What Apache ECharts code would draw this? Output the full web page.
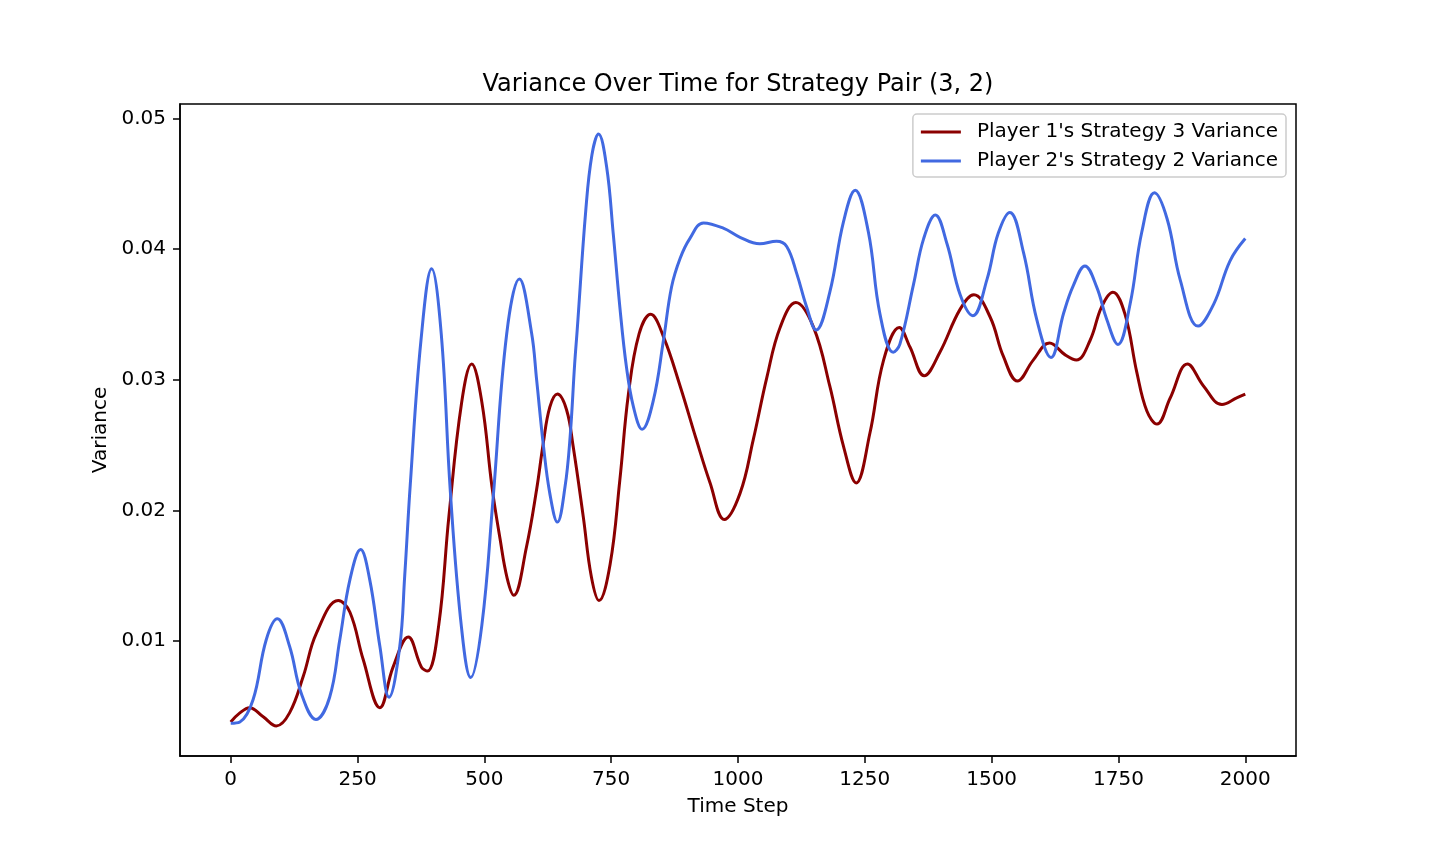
<!DOCTYPE html>
<html>
<head>
<meta charset="utf-8">
<title>Variance Over Time</title>
<script src="https://cdn.jsdelivr.net/npm/echarts@6/dist/echarts.min.js"></script>
<style>
  html, body { margin: 0; padding: 0; background: #fff; }
  #chart { width: 1440px; height: 864px; }
</style>
</head>
<body>
<div id="chart"></div>
<script>
// values (time step, variance)
var redT = [0, 18, 37, 64, 90, 116, 143, 169, 212, 235, 261, 294, 320, 350, 376, 388, 410, 430, 455, 475, 495, 515, 531, 545, 558, 583, 603, 616, 629, 644, 662, 675, 695, 711, 726, 748, 767, 784, 805, 828, 853, 886, 918, 945, 973, 1004, 1030, 1057, 1083, 1114, 1149, 1181, 1208, 1233, 1260, 1287, 1318, 1339, 1367, 1398, 1438, 1465, 1497, 1523, 1551, 1582, 1614, 1645, 1667, 1694, 1717, 1739, 1763, 1786, 1806, 1826, 1852, 1886, 1918, 1954, 1983, 2000];
var redV = [0.0038, 0.0045, 0.0049, 0.0042, 0.0035, 0.0045, 0.0073, 0.0106, 0.0131, 0.0122, 0.0086, 0.0049, 0.0080, 0.0103, 0.0080, 0.0077, 0.0112, 0.0195, 0.0282, 0.0312, 0.0283, 0.0218, 0.0178, 0.0148, 0.0135, 0.0172, 0.0216, 0.0251, 0.0279, 0.0289, 0.0277, 0.0249, 0.0195, 0.0149, 0.0131, 0.0159, 0.0223, 0.0289, 0.0335, 0.035, 0.0333, 0.0295, 0.0254, 0.0221, 0.0193, 0.0213, 0.0254, 0.0302, 0.034, 0.0359, 0.034, 0.0295, 0.0249, 0.0221, 0.0259, 0.0315, 0.034, 0.0325, 0.0303, 0.0321, 0.0354, 0.0365, 0.0348, 0.0318, 0.0299, 0.0315, 0.0328, 0.0319, 0.0315, 0.033, 0.0356, 0.0367, 0.035, 0.0306, 0.0276, 0.0266, 0.0286, 0.0312, 0.0295, 0.0281, 0.0286, 0.0289];

var blueT = [0, 18, 44, 70, 92, 116, 139, 168, 195, 215, 235, 256, 274, 294, 312, 333, 343, 354, 375, 396, 415, 433, 455, 473, 495, 517, 544, 569, 593, 603, 616, 629, 644, 659, 669, 678, 683, 700, 712, 725, 741, 754, 767, 780, 794, 811, 833, 853, 869, 886, 905, 932, 971, 1004, 1043, 1076, 1096, 1116, 1135, 1154, 1181, 1208, 1231, 1257, 1280, 1306, 1319, 1346, 1366, 1389, 1412, 1438, 1463, 1491, 1513, 1536, 1563, 1589, 1617, 1642, 1661, 1684, 1707, 1727, 1749, 1773, 1796, 1821, 1846, 1872, 1907, 1938, 1970, 2000];
var blueV = [0.0037, 0.0038, 0.0055, 0.0101, 0.0117, 0.0096, 0.006, 0.004, 0.0057, 0.0101, 0.0147, 0.017, 0.0147, 0.0096, 0.0057, 0.0095, 0.015, 0.022, 0.033, 0.0385, 0.0335, 0.0214, 0.011, 0.0072, 0.0112, 0.0208, 0.0335, 0.0377, 0.0336, 0.030, 0.0251, 0.0213, 0.0191, 0.0218, 0.0256, 0.0312, 0.0338, 0.043, 0.0472, 0.0488, 0.0463, 0.0412, 0.0356, 0.031, 0.0279, 0.0262, 0.0284, 0.033, 0.0371, 0.0393, 0.0408, 0.042, 0.0416, 0.0409, 0.0404, 0.0406, 0.0402, 0.0381, 0.0356, 0.0338, 0.0367, 0.0421, 0.0445, 0.0413, 0.035, 0.0321, 0.0327, 0.0373, 0.0408, 0.0426, 0.0404, 0.0365, 0.0349, 0.0377, 0.0412, 0.0428, 0.0397, 0.0346, 0.0317, 0.0351, 0.0372, 0.0387, 0.0371, 0.0346, 0.0327, 0.0358, 0.0413, 0.0443, 0.0423, 0.0376, 0.0341, 0.0358, 0.0391, 0.0408];

var xTicks = [0, 250, 500, 750, 1000, 1250, 1500, 1750, 2000];
var yTicks = [0.01, 0.02, 0.03, 0.04, 0.05];

var seriesNames = ["Player 1's Strategy 3 Variance", "Player 2's Strategy 2 Variance"];

function pairs(ts, vs) {
  return ts.map(function (t, i) { return [t, vs[i]]; });
}

var font = "DejaVu Sans";
var myChart = echarts.init(document.getElementById("chart"));

myChart.setOption({
  animation: false,
  textStyle: { fontFamily: font },
  title: {
    text: "Variance Over Time for Strategy Pair (3, 2)",
    left: 738,
    textAlign: "center",
    top: 73,
    padding: 0,
    textStyle: { fontFamily: font, fontSize: 24, fontWeight: "normal", color: "#000" }
  },
  legend: {
    orient: "vertical",
    right: 154,
    top: 114,
    padding: [8, 8, 6, 8],
    itemGap: 9,
    itemWidth: 40,
    itemHeight: 3,
    icon: "rect",
    borderColor: "#cccccc",
    borderWidth: 1.5,
    borderRadius: 4,
    backgroundColor: "rgba(255,255,255,0.8)",
    textStyle: { fontFamily: font, fontSize: 20, lineHeight: 20, color: "#000", padding: [0, 0, 0, 11] },
    data: seriesNames
  },
  grid: {
    left: 180,
    right: 144,
    top: 104,
    bottom: 108,
    show: true,
    borderColor: "#000",
    borderWidth: 1.5,
    containLabel: false
  },
  xAxis: {
    type: "value",
    min: -100,
    max: 2100,
    name: "Time Step",
    nameLocation: "middle",
    nameGap: 41,
    nameTextStyle: { fontFamily: font, fontSize: 20, color: "#000" },
    axisLine: { show: true, onZero: false, lineStyle: { color: "#000", width: 1.5 } },
    axisTick: { show: true, length: 7, lineStyle: { color: "#000", width: 1.5 }, customValues: xTicks },
    axisLabel: {
      fontFamily: font, fontSize: 20, color: "#000", margin: 14, customValues: xTicks,
      formatter: function (v) { return String(v); }
    },
    splitLine: { show: false }
  },
  yAxis: {
    type: "value",
    min: 0.0012,
    max: 0.0511,
    name: "Variance",
    nameLocation: "middle",
    nameGap: 58,
    nameTextStyle: { fontFamily: font, fontSize: 20, color: "#000" },
    axisLine: { show: true, onZero: false, lineStyle: { color: "#000", width: 1.5 } },
    axisTick: { show: true, length: 7, lineStyle: { color: "#000", width: 1.5 }, customValues: yTicks },
    axisLabel: {
      fontFamily: font, fontSize: 20, color: "#000", margin: 14, customValues: yTicks,
      formatter: function (v) { return v.toFixed(2); }
    },
    splitLine: { show: false }
  },
  series: [
    {
      name: seriesNames[0],
      type: "line",
      data: pairs(redT, redV),
      smooth: 0.4,
      symbol: "none",
      color: "#8B0000",
      lineStyle: { width: 3, color: "#8B0000" }
    },
    {
      name: seriesNames[1],
      type: "line",
      data: pairs(blueT, blueV),
      smooth: 0.4,
      symbol: "none",
      color: "#4169E1",
      lineStyle: { width: 3, color: "#4169E1" }
    }
  ]
});
</script>
</body>
</html>
